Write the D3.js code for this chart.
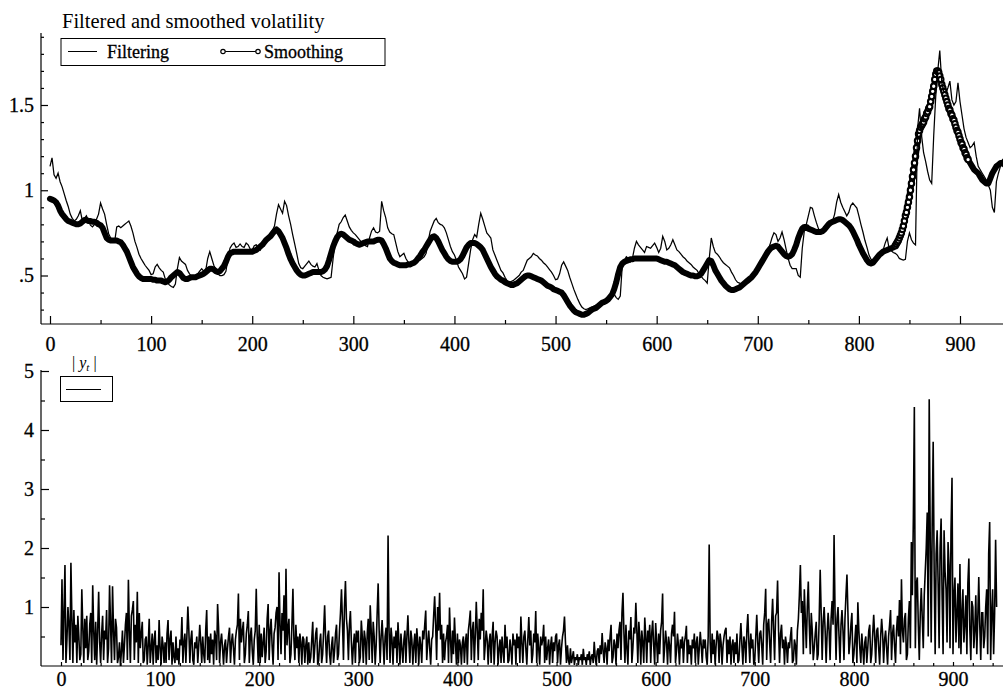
<!DOCTYPE html>
<html>
<head>
<meta charset="utf-8">
<script src="https://cdn.jsdelivr.net/npm/d3@7"></script>
<style>
body { margin: 0; background: #fff; }
svg { display: block; font-family: "Liberation Serif", "Times New Roman", serif; }
</style>
</head>
<body>
<div id="chart"></div>
<script>
// volatility series: one stored value every 2 observations (t = 0, 2, ... 944)
var volStep = 2;

var smoothing = [
    .95,.945,.94,.93,.91,.88,.86,.845,.83,.82,.815,.81,.805,.80,.80,.805,.815,.825,.825,.82,.82,.815,.815,.81,.80,
    .795,.78,.75,.72,.71,.705,.705,.705,.705,.70,.695,.68,.66,.64,.61,.58,.55,.53,.51,.495,.485,.48,.48,.48,.48,
    .48,.475,.475,.47,.47,.47,.465,.46,.465,.475,.49,.50,.51,.52,.515,.50,.485,.48,.48,.485,.49,.49,.49,.495,.50,
    .505,.51,.52,.53,.54,.54,.535,.525,.52,.525,.54,.555,.58,.61,.63,.635,.64,.64,.64,.64,.64,.64,.64,.64,.64,
    .64,.645,.65,.66,.67,.68,.695,.71,.72,.73,.745,.76,.77,.76,.74,.72,.69,.66,.625,.595,.57,.55,.53,.515,.505,
    .50,.50,.505,.51,.515,.52,.52,.52,.52,.52,.525,.535,.555,.59,.63,.67,.70,.725,.74,.745,.74,.73,.72,.71,.705,
    .70,.69,.685,.68,.685,.69,.695,.70,.70,.70,.70,.705,.71,.71,.705,.685,.66,.63,.60,.585,.575,.57,.565,.56,.56,
    .56,.56,.565,.565,.57,.575,.585,.60,.615,.635,.65,.67,.69,.71,.725,.73,.72,.70,.675,.65,.63,.61,.595,.585,.58,
    .58,.58,.585,.595,.615,.64,.665,.68,.69,.69,.69,.685,.675,.665,.65,.625,.60,.575,.55,.53,.51,.495,.485,.475,.47,
    .46,.455,.45,.445,.445,.45,.455,.465,.475,.485,.495,.50,.50,.495,.49,.485,.48,.475,.47,.46,.45,.44,.435,.43,.42,
    .415,.41,.405,.40,.385,.365,.345,.325,.31,.295,.285,.28,.275,.27,.27,.275,.28,.29,.30,.305,.31,.32,.33,.34,.345,
    .35,.36,.375,.39,.42,.46,.51,.55,.57,.58,.585,.59,.595,.595,.60,.60,.60,.60,.60,.60,.60,.60,.60,.60,.60,
    .60,.595,.59,.585,.58,.58,.575,.57,.565,.56,.55,.54,.53,.52,.515,.51,.505,.50,.50,.495,.495,.50,.51,.53,.55,
    .57,.59,.585,.56,.53,.51,.49,.47,.455,.44,.43,.42,.415,.415,.42,.425,.43,.44,.45,.46,.47,.48,.49,.505,.52,
    .54,.56,.58,.60,.62,.64,.655,.665,.67,.675,.67,.655,.64,.625,.615,.61,.615,.625,.65,.68,.72,.75,.775,.785,.785,
    .775,.77,.765,.76,.755,.755,.755,.76,.77,.785,.80,.81,.815,.82,.825,.83,.83,.825,.815,.805,.795,.78,.76,.735,.71,
    .68,.655,.63,.61,.59,.575,.57,.575,.59,.605,.62,.63,.64,.645,.65,.655,.66,.665,.675,.695,.72,.75,.79,.85,.91,
    .97,1.04,1.11,1.19,1.28,1.35,1.38,1.40,1.43,1.46,1.49,1.54,1.60,1.67,1.70,1.67,1.62,1.58,1.54,1.50,1.47,1.44,1.41,1.37,1.34,
    1.30,1.27,1.24,1.21,1.18,1.16,1.14,1.12,1.11,1.10,1.08,1.06,1.05,1.04,1.04,1.07,1.10,1.12,1.14,1.15,1.16,1.16,1.15
];

// the steep stretch where the single smoothing markers can be told apart (t = 836 ... 908)
var riseStart = 836;
var smoothingRise = [
    .675,.685,.695,.705,.72,.735,.75,.77,.79,.82,.85,.87,.90,.93,.96,1.0,1.04,1.08,1.12,1.16,1.20,1.25,1.29,1.33,1.35,
    1.37,1.38,1.39,1.40,1.42,1.43,1.45,1.46,1.48,1.49,1.52,1.55,1.58,1.61,1.65,1.68,1.70,1.70,1.69,1.67,1.65,1.62,1.60,
    1.58,1.56,1.54,1.52,1.50,1.48,1.47,1.45,1.44,1.42,1.41,1.39,1.37,1.35,1.34,1.32,1.30,1.28,1.27,1.25,1.24,1.22,1.21,1.19,1.18
];

var filtering = [
    1.14,1.19,1.09,1.07,1.10,1.05,1.02,.98,.94,.905,.86,.835,.82,.83,.85,.88,.82,.835,.85,.82,.795,.785,.80,.83,.86,
    .925,.89,.86,.80,.745,.72,.71,.70,.785,.79,.78,.79,.80,.81,.82,.79,.75,.70,.665,.625,.60,.58,.56,.545,.53,
    .505,.51,.55,.565,.545,.53,.52,.48,.46,.445,.435,.43,.45,.54,.605,.585,.575,.565,.53,.51,.495,.49,.50,.51,.525,
    .54,.525,.53,.60,.64,.60,.56,.535,.51,.50,.50,.505,.525,.60,.66,.68,.69,.665,.67,.685,.67,.665,.69,.68,.655,
    .65,.675,.68,.665,.65,.685,.70,.715,.73,.745,.765,.79,.86,.915,.89,.865,.935,.91,.85,.80,.74,.685,.63,.57,.545,
    .54,.555,.57,.585,.565,.555,.55,.57,.53,.50,.49,.485,.48,.485,.49,.60,.69,.75,.80,.815,.84,.855,.82,.785,.765,
    .75,.74,.725,.71,.695,.685,.675,.67,.72,.76,.78,.755,.75,.76,.935,.88,.84,.78,.755,.745,.74,.69,.64,.61,.62,
    .63,.60,.58,.575,.57,.58,.59,.59,.59,.60,.61,.63,.70,.76,.79,.82,.835,.81,.80,.795,.78,.75,.71,.67,.64,
    .62,.59,.55,.53,.51,.48,.49,.57,.65,.71,.74,.725,.80,.865,.83,.79,.75,.735,.72,.65,.62,.59,.56,.53,.515,
    .49,.47,.46,.465,.47,.48,.49,.50,.52,.53,.56,.59,.60,.61,.63,.62,.615,.60,.59,.575,.565,.55,.535,.52,.50,
    .475,.48,.51,.56,.58,.555,.53,.49,.455,.42,.39,.36,.335,.315,.305,.30,.305,.31,.315,.32,.325,.33,.34,.345,.35,
    .355,.365,.38,.385,.39,.37,.36,.38,.56,.59,.61,.60,.58,.60,.66,.70,.68,.665,.65,.635,.67,.665,.66,.675,.69,
    .665,.635,.66,.73,.70,.65,.66,.68,.71,.68,.65,.64,.625,.61,.60,.585,.575,.565,.55,.54,.53,.51,.495,.48,.47,
    .455,.60,.72,.67,.635,.625,.61,.59,.575,.565,.555,.545,.52,.50,.475,.46,.455,.45,.46,.475,.485,.49,.50,.51,.525,
    .54,.555,.575,.60,.625,.65,.68,.72,.75,.74,.70,.72,.755,.71,.655,.60,.56,.54,.54,.54,.50,.49,.66,.76,.80,
    .85,.90,.895,.85,.81,.775,.75,.77,.79,.80,.805,.81,.82,.86,.93,.975,.93,.90,.875,.85,.87,.91,.925,.91,.895,
    .85,.80,.755,.705,.665,.62,.595,.59,.60,.61,.62,.63,.65,.69,.72,.655,.645,.635,.63,.62,.60,.595,.59,.595,.70,
    .75,.71,.69,.68,1.36,1.48,1.32,1.22,1.17,1.11,1.06,1.04,1.32,1.55,1.70,1.82,1.63,1.58,1.57,1.60,1.64,1.53,1.50,1.52,1.63,
    1.52,1.44,1.36,1.31,1.28,1.25,1.26,1.28,1.20,1.14,1.12,1.10,1.08,1.06,1.03,1.00,.90,.87,1.05,1.10,1.14,1.18,1.17
];

// |y_t|, one value per observation (t = 0 ... 944)
var absReturns = [
    .35,1.47,.1,.9,1.71,.05,.45,1.0,.7,.1,1.75,.8,.05,.95,.4,.7,.05,.85,.5,.1,.2,1.3,.65,.05,.8,.3,.85,.1,.25,.7,.9,.05,1.37,.6,.1,.75,.02,.6,1.26,.4,.05,.55,.85,.1,.6,.45,.95,.05,.3,1.37,
    .7,.05,1.35,.6,.1,.8,.65,.05,.15,.4,0,.25,.6,.05,.35,.7,.9,.1,1.46,.6,.05,.85,.95,1.1,.1,.7,.4,1.26,.05,.9,.3,.55,.75,.05,.1,.45,.5,.02,.35,.8,.05,.3,.55,.02,.45,.6,.05,.35,.1,.78,
    .3,.02,.5,.35,.05,.4,.05,.55,.78,.1,.45,.6,.02,.4,.15,.05,.5,.1,.3,.02,.45,.35,.83,.05,.4,.55,.05,.5,1.01,.6,.05,.45,.6,.1,.02,.4,.3,.5,.05,.35,.7,.4,.05,.5,.2,.05,.6,.95,.1,.5,
    .05,.55,.2,.45,.02,.6,.5,.1,1.05,.65,.05,.4,.55,.3,.02,.35,.45,.05,.3,.5,.65,.05,.4,.55,.3,.02,.45,.6,.7,1.23,.1,.8,.4,.6,.75,.05,.2,.55,.7,.93,.05,.5,.65,.25,.02,.45,.6,1.31,.5,.05,
    .7,.05,.55,.15,.4,.65,.05,.25,.8,1.05,.1,.6,.8,.35,.02,.55,.65,.9,1.0,.1,1.59,.7,.2,.9,.6,1.2,.1,1.65,.35,.65,.8,.05,.2,.7,1.31,.45,.1,.7,.3,.5,.05,.55,.4,.02,.5,.45,.05,.35,.5,.02,
    .4,.05,.15,.45,.75,.05,.3,.55,.65,.02,.1,.4,.55,.05,.2,.6,1.03,.45,.05,.5,.6,.2,.02,.35,.5,.05,.25,.55,.7,.1,.2,.6,.9,1.3,.75,.1,1.0,1.44,.8,.6,.1,.7,.93,.4,.02,.35,.55,.05,.6,.4,
    .6,.05,.15,.77,.5,.05,.6,.45,.02,.55,.8,.1,1.03,.6,.05,.75,.5,.02,.35,.9,1.4,.6,.05,.5,.78,.4,.02,.5,.65,.1,2.21,.6,.05,.65,.45,.02,.5,.3,.6,.05,.74,.4,.02,.55,.3,.05,.45,.6,.05,.5,
    .86,.4,.05,.6,.45,.02,.35,.55,.05,.64,.4,.02,.5,.35,.05,.6,.45,.7,.94,.1,.4,.6,.3,.02,.45,.5,.85,1.18,.7,.1,1.0,.6,1.24,.45,.7,.05,.55,.1,.4,.5,.7,.05,.99,.45,.05,.6,.2,.82,.4,.02,
    .55,.05,.45,.35,.02,.4,.5,.05,.4,.55,.02,.6,.75,.94,.1,.6,.75,.05,.5,1.09,.6,.1,.8,.45,.9,.6,1.3,.1,.35,.6,.45,.02,.4,.55,.05,.5,.75,.02,.4,.6,.5,.02,.3,.45,.05,.5,.25,.05,.7,.3,
    .5,.05,.1,.45,.3,.02,.55,.35,.45,.02,.55,.3,.5,.05,.84,.4,.05,.5,.6,.3,.02,.45,.83,.35,.6,.05,.2,.55,.4,.93,.05,.55,.3,.02,.5,.35,.45,.7,.05,.5,.1,.3,.45,.02,.35,.5,.05,.4,.25,.5,
    .55,.05,.35,.45,.02,.3,.5,.6,.84,.4,.05,.35,.1,.02,.3,.05,.15,.25,.02,.15,.1,.2,.02,.15,.1,.2,.02,.29,.1,.15,.02,.2,.1,.25,.02,.15,.2,.05,.41,.15,.02,.25,.3,.05,.35,.2,.56,.25,.05,.4,
    .3,.02,.45,.25,.5,.7,.05,.15,.45,.35,.02,.55,.3,.6,.75,.1,.9,1.24,.55,.05,.7,.3,.02,.6,.45,.83,.05,.3,.65,.55,1.07,.6,.05,.75,.5,.02,.6,.4,.05,.82,.5,.05,.6,.4,.7,.05,.55,.77,.35,.02,
    .73,.4,.05,.55,.2,.6,.75,1.23,.05,.3,.6,.4,.02,.5,.35,.05,.55,.7,.5,.92,.05,.25,.55,.35,.02,.45,.3,.5,.05,.4,.5,.68,.05,.45,.2,.35,.02,.45,.3,.55,.05,.4,.5,.02,.3,.58,.35,.05,.45,.3,
    .45,.15,.02,.5,2.06,.4,.05,.55,.2,.45,.02,.35,.6,.5,.05,.55,.4,.02,.35,.5,.6,.65,.05,.45,.2,.5,.02,.35,.45,.05,.4,.2,.55,.05,.1,.45,.73,.35,.02,.5,.4,.05,.6,.88,.4,.05,.55,.3,.45,.02,
    .1,.5,.87,.4,.05,.55,.6,.35,.02,.7,.9,1.31,.1,.7,.8,.4,.05,.75,1.14,.6,.1,.85,.9,1.45,.6,.05,.55,.7,.3,.45,.02,.5,.35,.05,.4,.3,.5,.66,.05,.1,.45,.35,.02,.6,.8,1.2,1.71,.9,1.1,.2,
    1.3,.8,.3,1.0,1.43,.7,.2,.9,.6,.1,.3,.55,.75,.1,.2,.8,1.63,.9,.1,.75,1.0,.6,.05,.55,.9,.6,.1,.8,1.1,.7,2.22,.9,.1,.8,1.0,.5,.05,.7,.95,.6,.1,.8,1.2,1.55,.9,.2,.4,.7,.9,.05,
    .2,.45,.7,.05,1.08,.6,.3,.05,.55,.3,.02,.4,.5,.05,.3,.6,.7,.05,.2,.55,.87,.5,.05,.6,.65,.3,.02,.5,.8,.55,.05,.45,.6,.3,.02,.5,.7,.95,.1,.55,.7,.35,.05,.6,.85,.5,1.12,.2,1.47,.6,
    .4,.8,.9,.1,.2,.8,1.1,.3,2.1,1.2,2.5,4.39,.3,1.4,1.5,.7,.1,.9,1.32,.8,.3,1.2,1.6,2.0,2.6,.5,4.52,2.2,.4,2.4,3.8,1.6,.2,1.9,2.3,1.4,.3,2.0,2.5,1.2,.2,2.3,1.6,1.3,.4,2.1,1.7,.3,2.3,3.19,
    .2,1.2,1.5,.4,.9,1.4,.3,1.73,.2,.9,1.3,.4,.7,1.2,.2,1.4,1.82,.6,.1,1.1,1.0,.3,.6,1.2,.2,.8,1.51,.7,.1,.9,.9,.3,.5,1.0,1.3,.2,1.9,2.44,.1,.9,1.3,.2,.9,2.14,1.0
];

var xTickLabels = [0, 100, 200, 300, 400, 500, 600, 700, 800, 900];
var xTopMinor = [50, 150, 250, 350, 450, 550, 650, 750, 850];
var xBotMinor = [20, 40, 60, 80, 120, 140, 160, 180, 220, 240, 260, 280, 320, 340, 360, 380,
    420, 440, 460, 480, 520, 540, 560, 580, 620, 640, 660, 680, 720, 740, 760, 780,
    820, 840, 860, 880, 920, 940];
var yTopLabels = [0.5, 1, 1.5];
var yTopMinor = [0.3, 0.4, 0.6, 0.7, 0.8, 0.9, 1.1, 1.2, 1.3, 1.4, 1.6, 1.7, 1.8, 1.9];
var yBotLabels = [1, 2, 3, 4, 5];
var yBotMinor = [0.5, 1.5, 2.5, 3.5, 4.5];

var width = 1003, height = 697;
var svg = d3.select("#chart").append("svg")
    .attr("width", width)
    .attr("height", height);

var xTop = d3.scaleLinear().domain([0, 900]).range([50, 960]);
var yTop = d3.scaleLinear().domain([0.5, 1.5]).range([275.5, 105]);
var xBot = d3.scaleLinear().domain([0, 900]).range([61, 953]);
var yBot = d3.scaleLinear().domain([0, 5]).range([666, 371]);

var axisLeftX = 41;

// top panel axes
drawAxisX(xTop, 324, xTopMinor, 4, 8, 13);
drawAxisY(yTop, yTopMinor, yTopLabels, 3, 7, function(d) { return d == 0.5 ? ".5" : d; });
svg.append("line").attr("x1", axisLeftX).attr("x2", width).attr("y1", 324).attr("y2", 324)
    .attr("stroke", "#000").attr("stroke-width", 1.2);
svg.append("line").attr("x1", axisLeftX).attr("x2", axisLeftX).attr("y1", 33).attr("y2", 324)
    .attr("stroke", "#000").attr("stroke-width", 1.2);

// bottom panel axes
drawAxisX(xBot, 666, xBotMinor, 3, 4, 6);
drawAxisY(yBot, yBotMinor, yBotLabels, 4, 8, function(d) { return d; });
svg.append("line").attr("x1", axisLeftX).attr("x2", width).attr("y1", 666).attr("y2", 666)
    .attr("stroke", "#000").attr("stroke-width", 1.2);
svg.append("line").attr("x1", axisLeftX).attr("x2", axisLeftX).attr("y1", 370).attr("y2", 666)
    .attr("stroke", "#000").attr("stroke-width", 1.2);

function drawAxisX(x, y0, minor, minorLen, majorLen, pad) {
    svg.append("g")
        .attr("transform", "translate(0," + y0 + ")")
        .call(d3.axisBottom(x).tickValues(minor).tickSize(-minorLen).tickFormat(""))
        .call(cleanAxis);
    svg.append("g")
        .attr("transform", "translate(0," + y0 + ")")
        .call(d3.axisBottom(x).tickValues(xTickLabels).tickSize(-majorLen).tickPadding(pad))
        .call(cleanAxis);
}

function drawAxisY(y, minor, major, minorLen, majorLen, fmt) {
    svg.append("g")
        .attr("transform", "translate(" + axisLeftX + ",0)")
        .call(d3.axisLeft(y).tickValues(minor).tickSize(-minorLen).tickFormat(""))
        .call(cleanAxis);
    svg.append("g")
        .attr("transform", "translate(" + axisLeftX + ",0)")
        .call(d3.axisLeft(y).tickValues(major).tickSize(-majorLen).tickPadding(7).tickFormat(fmt))
        .call(cleanAxis);
}

function cleanAxis(g) {
    g.select(".domain").remove();
    g.selectAll(".tick line").attr("stroke", "#000").attr("stroke-width", 1.2);
    g.selectAll(".tick text")
        .attr("fill", "#000")
        .attr("stroke", "#000")
        .attr("stroke-width", 0.3)
        .style("font-family", "'Liberation Serif', 'Times New Roman', serif")
        .style("font-size", "20px");
}

// top panel series
var volLine = d3.line()
    .x(function(d, i) { return xTop(i * volStep); })
    .y(function(d) { return yTop(d); });

// the smoothing markers overlap into a solid band
svg.append("path")
    .datum(smoothing)
    .attr("d", volLine)
    .attr("fill", "none")
    .attr("stroke", "#000")
    .attr("stroke-width", 6)
    .attr("stroke-linejoin", "round")
    .attr("stroke-linecap", "round");

svg.append("path")
    .datum(smoothingRise)
    .attr("d", d3.line()
        .x(function(d, i) { return xTop(riseStart + i); })
        .y(function(d) { return yTop(d); }))
    .attr("fill", "none")
    .attr("stroke", "#000")
    .attr("stroke-width", 1.2);

svg.append("g").selectAll("circle")
    .data(smoothingRise)
    .enter().append("circle")
    .attr("cx", function(d, i) { return xTop(riseStart + i); })
    .attr("cy", function(d) { return yTop(d); })
    .attr("r", 2.7)
    .attr("fill", "#fff")
    .attr("stroke", "#000")
    .attr("stroke-width", 2.1);

svg.append("path")
    .datum(filtering)
    .attr("d", volLine)
    .attr("fill", "none")
    .attr("stroke", "#000")
    .attr("stroke-width", 1.25);

// bottom panel series
var absLine = d3.line()
    .x(function(d, i) { return xBot(i); })
    .y(function(d) { return yBot(d); });

svg.append("path")
    .datum(absReturns)
    .attr("d", absLine)
    .attr("fill", "none")
    .attr("stroke", "#000")
    .attr("stroke-width", 1.6);

// title and legends
svg.append("text")
    .attr("x", 62).attr("y", 27.5)
    .style("font-size", "20.5px")
    .text("Filtered and smoothed volatility");

var legend = svg.append("g");
legend.append("rect")
    .attr("x", 61).attr("y", 38.5).attr("width", 324).attr("height", 27)
    .attr("fill", "#fff").attr("stroke", "#000").attr("stroke-width", 1);
legend.append("line")
    .attr("x1", 68).attr("x2", 97).attr("y1", 51.5).attr("y2", 51.5)
    .attr("stroke", "#000").attr("stroke-width", 1);
legend.append("text")
    .attr("x", 107).attr("y", 57.5)
    .attr("stroke", "#000").attr("stroke-width", 0.3)
    .style("font-size", "18px")
    .text("Filtering");
legend.append("line")
    .attr("x1", 223).attr("x2", 258).attr("y1", 51.5).attr("y2", 51.5)
    .attr("stroke", "#000").attr("stroke-width", 1.2);
legend.selectAll("circle.mark")
    .data([223, 258])
    .enter().append("circle")
    .attr("cx", function(d) { return d; })
    .attr("cy", 51.5)
    .attr("r", 2.2)
    .attr("fill", "#fff")
    .attr("stroke", "#000")
    .attr("stroke-width", 1.2);
legend.append("text")
    .attr("x", 264).attr("y", 57.5)
    .attr("stroke", "#000").attr("stroke-width", 0.3)
    .style("font-size", "18px")
    .text("Smoothing");

var legend2 = svg.append("g");
var lab = legend2.append("text")
    .attr("x", 72).attr("y", 368)
    .style("font-size", "16px");
lab.append("tspan").text("| ");
lab.append("tspan").style("font-style", "italic").text("y");
lab.append("tspan").attr("dy", 3).style("font-size", "11px").style("font-style", "italic").text("t");
lab.append("tspan").attr("dy", -3).text(" |");
legend2.append("rect")
    .attr("x", 60.5).attr("y", 376.5).attr("width", 52).attr("height", 25)
    .attr("fill", "#fff").attr("stroke", "#000").attr("stroke-width", 1);
legend2.append("line")
    .attr("x1", 66).attr("x2", 101).attr("y1", 389.5).attr("y2", 389.5)
    .attr("stroke", "#000").attr("stroke-width", 1);
</script>
</body>
</html>
